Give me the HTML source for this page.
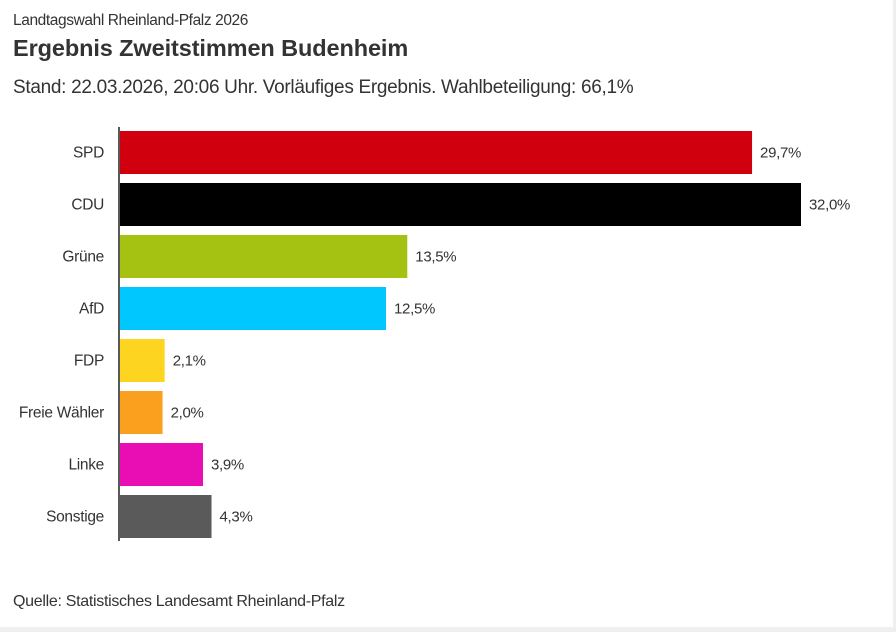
<!DOCTYPE html>
<html><head><meta charset="utf-8"><style>
body{margin:0;width:896px;height:632px;background:#efefef;font-family:"Liberation Sans",sans-serif;overflow:hidden}
#card{position:absolute;left:0;top:0;width:893px;height:627px;background:#fff}
.t{position:absolute;left:13px;color:#333;white-space:nowrap}
</style></head><body>
<div id="card">
<div class="t" style="top:12px;font-size:15.5px;letter-spacing:-0.4px">Landtagswahl Rheinland-Pfalz 2026</div>
<div class="t" style="top:35px;font-size:23.5px;font-weight:bold;letter-spacing:-0.1px">Ergebnis Zweitstimmen Budenheim</div>
<div class="t" style="top:77px;font-size:19px;letter-spacing:-0.3px">Stand: 22.03.2026, 20:06 Uhr. Vorläufiges Ergebnis. Wahlbeteiligung: 66,1%</div>
<svg id="chart" width="893" height="560" style="position:absolute;left:0;top:0"></svg>
<div class="t" style="top:593px;font-size:16px;letter-spacing:-0.3px">Quelle: Statistisches Landesamt Rheinland-Pfalz</div>
</div>
<script>
const categories=["SPD","CDU","Grüne","AfD","FDP","Freie Wähler","Linke","Sonstige"];
const values=[29.7,32.0,13.5,12.5,2.1,2.0,3.9,4.3];
const colors=["#d0000f","#000000","#a5c212","#00c8ff","#fdd520","#fa9f1e","#e80eb4","#5a5a5a"];
const svg=document.getElementById('chart');
const NS="http://www.w3.org/2000/svg";
const x0=120,xScale=681/32;
const x=v=>x0+v*xScale;
const y=i=>131+i*52;
const bh=43;
categories.forEach((c,i)=>{
 const r=document.createElementNS(NS,'rect');
 r.setAttribute('x',x0);r.setAttribute('y',y(i));
 r.setAttribute('width',x(values[i])-x0);r.setAttribute('height',bh);
 r.setAttribute('fill',colors[i]);
 
 
 svg.appendChild(r);
 const l=document.createElementNS(NS,'text');
 l.setAttribute('x',104);l.setAttribute('y',y(i)+bh/2+5);
 l.setAttribute('text-anchor','end');l.setAttribute('font-size','15.5');l.setAttribute('fill','#333');
 l.setAttribute('letter-spacing','-0.3');
 l.textContent=c;
 
 
 svg.appendChild(l);
 const v=document.createElementNS(NS,'text');
 v.setAttribute('x',x(values[i])+8);v.setAttribute('y',y(i)+bh/2+5);
 v.setAttribute('font-size','15');v.setAttribute('fill','#333');
 v.setAttribute('letter-spacing','-0.3');
 v.textContent=values[i].toFixed(1).replace('.',',')+'%';
 
 
 svg.appendChild(v);
});
const ax=document.createElementNS(NS,'line');
ax.setAttribute('x1',119);ax.setAttribute('x2',119);ax.setAttribute('y1',127);ax.setAttribute('y2',541);
ax.setAttribute('stroke','#222');ax.setAttribute('stroke-width','1.5');


svg.appendChild(ax);
</script>
</body></html>
